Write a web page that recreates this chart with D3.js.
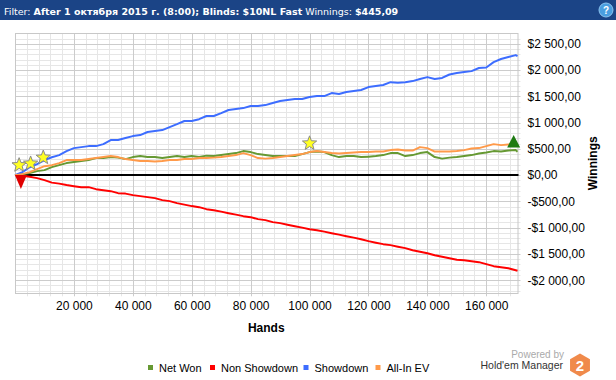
<!DOCTYPE html>
<html><head><meta charset="utf-8">
<script src="https://cdn.jsdelivr.net/npm/d3@7"></script>
<style>body{margin:0;background:#fff;}svg{display:block;}</style>
</head><body>
<script>
// ---------- DATA ----------
const hands = [0,2500,5000,7500,10000,12500,15000,17500,20000,22500,25000,27500,30000,32500,35000,37500,40000,42500,45000,47500,50000,52500,55000,57500,60000,62500,65000,67500,70000,72500,75000,77500,80000,82500,85000,87500,90000,92500,95000,97500,100000,102500,105000,107500,110000,112500,115000,117500,120000,122500,125000,127500,130000,132500,135000,137500,140000,142500,145000,147500,150000,152500,155000,157500,160000,162500,165000,167500,170000,170600];
const netWon = [0,19,38,76,95,152,190,229,248,267,286,324,324,343,333,305,343,362,343,343,324,343,362,343,362,343,371,362,381,400,419,457,438,400,381,362,362,362,362,400,438,448,438,381,343,362,362,343,352,362,381,419,419,362,381,419,438,343,314,333,343,362,381,410,429,457,448,467,476,445];
const nonShowdown = [0,-10,-30,-57,-95,-143,-162,-190,-210,-229,-229,-267,-286,-305,-343,-352,-381,-400,-419,-438,-476,-495,-533,-562,-590,-610,-648,-667,-695,-724,-752,-781,-800,-838,-857,-895,-914,-943,-972,-1000,-1029,-1048,-1076,-1105,-1133,-1162,-1190,-1220,-1257,-1286,-1314,-1333,-1362,-1390,-1430,-1457,-1486,-1524,-1553,-1581,-1610,-1620,-1638,-1657,-1695,-1733,-1752,-1772,-1810,-1819];
const showdown = [0,57,150,210,285,340,380,457,514,533,552,552,590,667,667,705,743,762,820,838,857,915,970,1030,1030,1065,1125,1125,1180,1240,1257,1276,1315,1315,1333,1372,1410,1430,1448,1448,1486,1505,1505,1562,1543,1581,1600,1620,1676,1695,1715,1770,1760,1770,1790,1830,1866,1830,1850,1915,1943,1962,1980,2040,2050,2150,2210,2250,2285,2267];
const allInEV = [0,19,57,114,171,190,229,286,286,286,305,324,343,362,343,305,286,267,267,257,267,286,286,305,305,324,324,333,343,362,381,419,381,324,314,324,343,362,381,400,438,457,438,419,410,419,429,438,438,448,448,476,486,467,467,533,514,448,448,448,457,476,505,514,552,590,571,581,590,543];

const seriesNames = ["Net Won","Non Showdown","Showdown","All-In EV"];
const seriesColors = ["#669933","#ff0000","#3d6dff","#ff9a4a"];
const seriesValues = [netWon, nonShowdown, showdown, allInEV];

const yTicks = [-2000,-1500,-1000,-500,0,500,1000,1500,2000,2500];
const xTicks = [20000,40000,60000,80000,100000,120000,140000,160000];

const starHands = [1400, 5300, 9600, 100000];
const starValues = [190, 222, 335, 605];
const minMarker = {hands: 2000, value: 0};
const maxMarker = {hands: 169300, value: 528};

const headerParts = [["Filter: ",false],["After 1 октября 2015 г. (8:00); Blinds: $10NL Fast",true],[" Winnings: ",false],["$445,09",true]];

// ---------- LAYOUT ----------
const W = 616, H = 380;
const plot = {left: 15, right: 517.5, top: 33.3, bottom: 293.3};
const svg = d3.select("body").append("svg").attr("width", W).attr("height", H)
  .style("font-family", "'Liberation Sans', Arial, sans-serif");

const x = d3.scaleLinear().domain([0, 170600]).range([plot.left, plot.right]);
const y = d3.scaleLinear().domain([-2250, 2700]).range([plot.bottom, plot.top]);

// header
svg.append("rect").attr("x",0).attr("y",0).attr("width",W).attr("height",20).attr("fill","#1b4486");
const ht = svg.append("text").attr("x",4).attr("y",14.5).attr("fill","#fff").attr("font-size",12)
  .style("font-family","'DejaVu Sans', sans-serif");
headerParts.forEach(([t,b]) => ht.append("tspan").text(t).attr("font-weight", b ? "bold" : "normal"));
const hw = ht.node().getComputedTextLength();
ht.attr("font-size", 12 * 395 / hw);
const help = svg.append("g").attr("transform","translate(606,10)");
help.append("circle").attr("r",7).attr("fill","#4a9ee0").attr("stroke","#8cc4f0").attr("stroke-width",1);
help.append("text").attr("text-anchor","middle").attr("y",4).attr("fill","#fff").attr("font-size",10).attr("font-weight","bold").text("?");

// grid
const g = svg.append("g");
const minorY = d3.range(-2200, 2700, 100).filter(v => v % 500 !== 0);
const minorX = d3.range(4000, 170600, 4000).filter(v => v % 20000 !== 0);
g.selectAll(".hmin").data(minorY).join("line")
  .attr("x1", plot.left).attr("x2", plot.right + 3)
  .attr("y1", d => Math.round(y(d)) + 0.5).attr("y2", d => Math.round(y(d)) + 0.5)
  .attr("stroke", "#e6e6e6");
g.selectAll(".vmin").data(minorX).join("line")
  .attr("y1", plot.top).attr("y2", plot.bottom + 3)
  .attr("x1", d => Math.round(x(d)) + 0.5).attr("x2", d => Math.round(x(d)) + 0.5)
  .attr("stroke", "#e6e6e6");
g.selectAll(".hmaj").data(yTicks).join("line")
  .attr("x1", plot.left).attr("x2", plot.right + 3)
  .attr("y1", d => Math.round(y(d)) + 0.5).attr("y2", d => Math.round(y(d)) + 0.5)
  .attr("stroke", "#cccccc");
g.selectAll(".vmaj").data(xTicks).join("line")
  .attr("y1", plot.top).attr("y2", plot.bottom + 3)
  .attr("x1", d => Math.round(x(d)) + 0.5).attr("x2", d => Math.round(x(d)) + 0.5)
  .attr("stroke", "#cccccc");
g.append("rect").attr("x", plot.left + 0.5).attr("y", Math.round(plot.top) + 0.5)
  .attr("width", plot.right - plot.left).attr("height", plot.bottom - plot.top)
  .attr("fill", "none").attr("stroke", "#c8c8c8");

// zero line
svg.append("line").attr("x1", plot.left).attr("x2", plot.right + 1)
  .attr("y1", y(0)).attr("y2", y(0)).attr("stroke", "#000").attr("stroke-width", 2);

// axes
const loc = d3.formatLocale({decimal: ",", thousands: "\u00a0", grouping: [3], currency: ["$", ""], minus: "-"});
const yFmt = loc.format("$,.2f");
const xFmt = loc.format(",d");
const yAxis = svg.append("g").attr("transform", `translate(${plot.right},0)`)
  .call(d3.axisRight(y).tickValues(yTicks).tickSize(0).tickPadding(10).tickFormat(yFmt));
yAxis.select(".domain").remove();
yAxis.selectAll("text").attr("font-size", 12).attr("fill", "#000").style("font-family", "'Liberation Sans', Arial, sans-serif");
const xAxis = svg.append("g").attr("transform", `translate(0,${plot.bottom})`)
  .call(d3.axisBottom(x).tickValues(xTicks).tickSize(0).tickPadding(8).tickFormat(xFmt));
xAxis.select(".domain").remove();
xAxis.selectAll("text").attr("font-size", 12).attr("fill", "#000").style("font-family", "'Liberation Sans', Arial, sans-serif");

svg.append("text").attr("x", (plot.left + plot.right) / 2).attr("y", 331.5).attr("text-anchor", "middle")
  .attr("font-size", 12).attr("font-weight", "bold").text("Hands");
svg.append("text").attr("transform", `translate(597,${(plot.top + plot.bottom) / 2}) rotate(-90)`)
  .attr("text-anchor", "middle").attr("font-size", 12).attr("font-weight", "bold").text("Winnings");

// lines
const line = d3.line().x((d, i) => x(hands[i])).y(d => y(d));
seriesValues.forEach((vals, k) => {
  svg.append("path").datum(vals).attr("d", line).attr("fill", "none")
    .attr("stroke", seriesColors[k]).attr("stroke-width", 2).attr("stroke-linejoin", "round");
});

// markers
function starPath(cx, cy, R, r) {
  const pts = [];
  for (let i = 0; i < 10; i++) {
    const a = -Math.PI / 2 + i * Math.PI / 5;
    const rad = i % 2 === 0 ? R : r;
    pts.push([cx + rad * Math.cos(a), cy + rad * Math.sin(a)]);
  }
  return "M" + pts.map(p => p.join(",")).join("L") + "Z";
}
starHands.forEach((h, i) => {
  svg.append("path").attr("d", starPath(x(h), y(starValues[i]), 7.5, 3.2))
    .attr("fill", "#ffff22").attr("stroke", "#8a8a8a").attr("stroke-width", 1);
});
{
  const cx = x(minMarker.hands), cy = y(minMarker.value);
  svg.append("path").attr("d", `M${cx-6},${cy}L${cx+6},${cy}L${cx},${cy+14}Z`).attr("fill", "#e00000");
}
{
  const cx = x(maxMarker.hands), cy = y(maxMarker.value);
  svg.append("path").attr("d", `M${cx-6.5},${cy}L${cx+6.5},${cy}L${cx},${cy-12.5}Z`).attr("fill", "#1e7a12");
}

// legend
const legendX = [148, 210, 303.5, 375.5];
seriesNames.forEach((n, k) => {
  svg.append("rect").attr("x", legendX[k]).attr("y", 365).attr("width", 5).attr("height", 5).attr("fill", seriesColors[k]);
  svg.append("text").attr("x", legendX[k] + 11).attr("y", 372).attr("font-size", 11).attr("fill", "#000").text(n);
});

// logo
svg.append("text").attr("x", 564).attr("y", 357.5).attr("text-anchor", "end").attr("font-size", 10).attr("fill", "#aaaaaa").text("Powered by");
svg.append("text").attr("x", 563).attr("y", 368.5).attr("text-anchor", "end").attr("font-size", 10.5).attr("fill", "#333").text("Hold'em Manager");
{
  const cx = 580, cy = 365, r = 11.5;
  const hex = d3.range(6).map(i => { const a = -Math.PI / 2 + i * Math.PI / 3; return [cx + r * Math.cos(a), cy + r * Math.sin(a)]; });
  svg.append("path").attr("d", "M" + hex.join("L") + "Z").attr("fill", "#f08a4b");
  svg.append("text").attr("x", cx).attr("y", cy + 5.5).attr("text-anchor", "middle").attr("font-size", 15).attr("font-weight", "bold").attr("fill", "#fff").text("2");
}
</script>
</body></html>
